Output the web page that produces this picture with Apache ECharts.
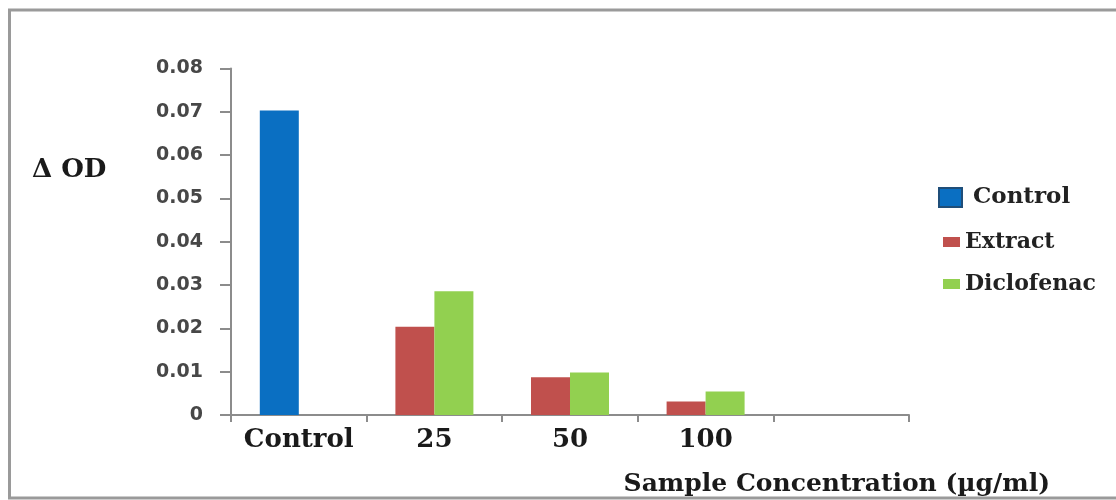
<!DOCTYPE html>
<html>
<head>
<meta charset="utf-8">
<script src="https://cdn.jsdelivr.net/npm/echarts@6/dist/echarts.min.js"></script>
<style>html,body{margin:0;padding:0;background:#fff}#c{width:1116px;height:500px}</style>
</head>
<body>
<div id="c"></div>
<script>
const categories = ['Control', '25', '50', '100', ''];
const controlValues = [0.0703, '-', '-', '-', '-'];
const extractValues = ['-', 0.0204, 0.0087, 0.0031, '-'];
const diclofenacValues = ['-', 0.0286, 0.0098, 0.0054, '-'];
const yMin = 0, yMax = 0.08, yStep = 0.01;

const serif = '"DejaVu Serif", "Liberation Serif", serif';
const chart = echarts.init(document.getElementById('c'));
chart.setOption({
  backgroundColor: '#fff',
  animation: false,
  grid: { left: 231, right: 207, top: 68.5, bottom: 85, containLabel: false },
  legend: [
    { data: ['Control'], orient: 'vertical', left: 933, top: 181, itemWidth: 23, itemHeight: 19, itemGap: 10,
      icon: 'rect', textStyle: { fontFamily: serif, fontWeight: 'bold', fontSize: 23, color: '#222', padding: [0, 0, 0, 6] },
      itemStyle: { borderColor: '#1F4E79', borderWidth: 2 } },
    { data: ['Extract'], orient: 'vertical', left: 938, top: 226, itemWidth: 17, itemHeight: 10, itemGap: 4,
      icon: 'rect', textStyle: { fontFamily: serif, fontWeight: 'bold', fontSize: 22, color: '#222' } },
    { data: ['Diclofenac'], orient: 'vertical', left: 938, top: 268, itemWidth: 17, itemHeight: 10, itemGap: 4,
      icon: 'rect', textStyle: { fontFamily: serif, fontWeight: 'bold', fontSize: 22, color: '#222' } }
  ],
  xAxis: {
    type: 'category',
    data: categories,
    axisLine: { lineStyle: { color: '#8c8c8c', width: 2 } },
    axisTick: { show: true, length: 7, lineStyle: { color: '#8c8c8c', width: 2 } },
    axisLabel: { interval: 0, hideOverlap: false, margin: 12, fontFamily: serif, fontWeight: 'bold', fontSize: 26, color: '#1a1a1a' },
    splitLine: { show: false }
  },
  yAxis: {
    type: 'value',
    min: yMin, max: yMax, interval: yStep,
    axisLine: { show: true, lineStyle: { color: '#8c8c8c', width: 2 } },
    axisTick: { show: true, length: 11, lineStyle: { color: '#8c8c8c', width: 2 } },
    axisLabel: { margin: 28, fontFamily: '"DejaVu Sans", sans-serif', fontWeight: 'bold', fontSize: 19, color: '#474747',
      formatter: v => v === 0 ? '0' : v.toFixed(2) },
    splitLine: { show: false }
  },
  series: [
    { name: 'Control', type: 'bar', stack: 'a', data: controlValues, barWidth: 39, barGap: '0%',
      itemStyle: { color: '#0A6FC2' } },
    { name: 'Extract', type: 'bar', stack: 'a', data: extractValues, barWidth: 39, barGap: '0%',
      itemStyle: { color: '#C0504D' } },
    { name: 'Diclofenac', type: 'bar', stack: 'b', data: diclofenacValues, barWidth: 39, barGap: '0%',
      itemStyle: { color: '#92D050' } }
  ],
  graphic: [
    { type: 'polyline', silent: true, z: -1,
      shape: { points: [[1120, 10], [9.5, 10], [9.5, 498], [1120, 498]] },
      style: { fill: 'none', stroke: '#9a9a9a', lineWidth: 3 } },
    { type: 'text', left: 32, top: 157,
      style: { text: 'Δ OD', font: 'bold 26px ' + serif, fill: '#1a1a1a' } },
    { type: 'text', right: 66, top: 472,
      style: { text: 'Sample Concentration (µg/ml)', font: 'bold 25px ' + serif, fill: '#1a1a1a' } }
  ]
});
</script>
</body>
</html>
